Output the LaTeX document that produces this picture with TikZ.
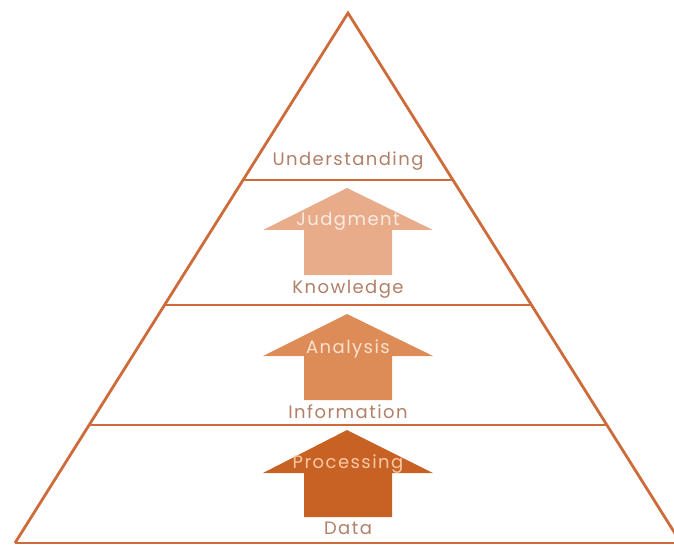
\documentclass[tikz,border=0pt]{standalone}
\usepackage{fontspec}
\setmainfont[LetterSpace=8]{Poppins}
\definecolor{edge}{RGB}{205,108,58}
\definecolor{lbl}{RGB}{176,128,104}
\definecolor{arrA}{RGB}{232,172,138}
\definecolor{arrB}{RGB}{221,140,88}
\definecolor{arrC}{RGB}{200,98,36}
\definecolor{txtA}{RGB}{250,235,225}
\definecolor{txtB}{RGB}{250,225,205}
\definecolor{txtC}{RGB}{250,200,165}
\tikzset{
  tier/.style={draw=edge,line width=2.8pt},
  level/.style={text=lbl,font=\fontsize{18}{18}\selectfont,inner sep=0pt,anchor=center},
  actlbl/.style={font=\fontsize{18}{18}\selectfont,inner sep=0pt,anchor=center}
}
\begin{document}
\begin{tikzpicture}[x=1pt,y=-1pt]
\useasboundingbox (0,0) rectangle (674,545);
\clip (0,0) rectangle (674,545);
% triangle corners
\coordinate (apex) at (348,13);
\coordinate (bl) at (15,543);
\coordinate (br) at (681,543);
\coordinate (l1) at (243,180);
\coordinate (r1) at (453,180);
\coordinate (l2) at (165,305);
\coordinate (r2) at (531,305);
\coordinate (l3) at (89,425);
\coordinate (r3) at (607,425);
\draw[tier,line join=miter] (bl) -- (apex) -- (br);
\draw[tier] (bl) -- (br);
\draw[tier] (l1) -- (r1);
\draw[tier] (l2) -- (r2);
\draw[tier] (l3) -- (r3);
% arrows
\fill[arrA] (347,188) -- (433,230) -- (392,230) -- (392,275) -- (304,275) -- (304,230) -- (263,230) -- cycle;
\fill[arrB] (347,314) -- (433,356) -- (392,356) -- (392,400) -- (304,400) -- (304,356) -- (263,356) -- cycle;
\fill[arrC] (347,430) -- (433,473) -- (392,473) -- (392,517) -- (304,517) -- (304,473) -- (263,473) -- cycle;
% labels
\node[level] (und) at (348,161) {Understanding};
\node[level] (kno) at (348,289) {Knowledge};
\node[level] (inf) at (348,412) {Information};
\node[level] (dat) at (348,528) {Data};
\node[actlbl,text=txtA] (jud) at (348,221) {Judgment};
\node[actlbl,text=txtB] (ana) at (348,349) {Analysis};
\node[actlbl,text=txtC] (pro) at (348,464) {Processing};
\end{tikzpicture}
\end{document}
